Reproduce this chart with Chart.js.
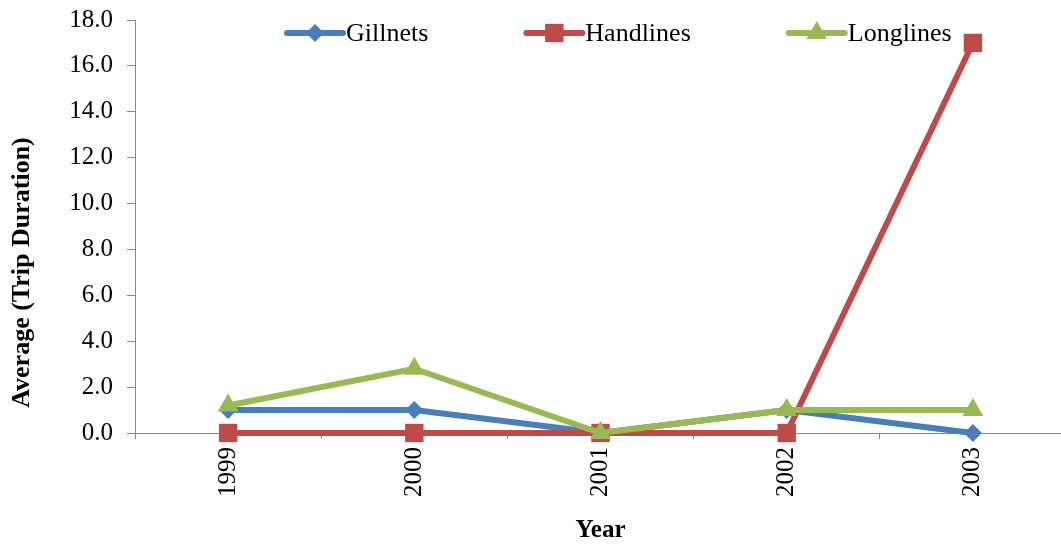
<!DOCTYPE html>
<html>
<head>
<meta charset="utf-8">
<script src="https://cdn.jsdelivr.net/npm/chart.js@4.4.1/dist/chart.umd.min.js"></script>
<style>
	html, body { margin: 0; padding: 0; overflow: hidden; background: #fff; }
	#wrap { width: 1079px; height: 545px; }
</style>
</head>
<body>
<div id="wrap"><canvas id="chartViwe" width="1079" height="545"></canvas></div>
<script>
var years = ['1999', '2000', '2001', '2002', '2003'];
var gillnets = [1.0, 1.0, 0.0, 1.0, 0.0];
var handlines = [0.0, 0.0, 0.0, 0.0, 17.0];
var longlines = [1.2, 2.8, 0.0, 1.0, 1.0];

var yTitle = 'Average (Trip Duration)';
var xTitle = 'Year';
var serif = '"Liberation Serif", "Times New Roman", serif';
var axisColor = '#868686';

function series(label, values, color, style, radius, order) {
	return {
		label: label,
		data: values,
		borderColor: color,
		backgroundColor: color,
		borderWidth: 6,
		tension: 0,
		clip: false,
		pointStyle: style,
		pointRadius: radius,
		pointHoverRadius: radius,
		pointBackgroundColor: color,
		pointBorderColor: color,
		pointBorderWidth: 0,
		order: order
	}
};

// legend with line + marker, laid over the top of the plot
var lineLegend = {
	id: 'lineLegend',
	afterDraw: function (c) {
		var ctx = c.ctx;
		var x = 287;
		var y = 33;
		ctx.save();
		ctx.font = '26px ' + serif;
		ctx.textBaseline = 'middle';
		c.data.datasets.forEach(function (ds) {
			ctx.strokeStyle = ds.borderColor;
			ctx.lineWidth = 6;
			ctx.lineCap = 'round';
			ctx.beginPath();
			ctx.moveTo(x, y);
			ctx.lineTo(x + 56, y);
			ctx.stroke();
			ctx.fillStyle = ds.borderColor;
			Chart.helpers.drawPoint(ctx, { pointStyle: ds.pointStyle, radius: ds.pointRadius, rotation: 0, borderWidth: 0 }, x + 28, y);
			ctx.fillStyle = '#000';
			ctx.fillText(ds.label, x + 59, y + 1);
			x = x + 59 + ctx.measureText(ds.label).width + 98;
		});
		ctx.restore();
	}
};

var yTitlePlugin = {
	id: 'yTitlePlugin',
	afterDraw: function (c) {
		var ctx = c.ctx;
		ctx.save();
		ctx.translate(22, c.height / 2);
		ctx.rotate(-Math.PI / 2);
		ctx.font = 'bold 26px ' + serif;
		ctx.fillStyle = '#000';
		ctx.textAlign = 'center';
		ctx.textBaseline = 'middle';
		ctx.fillText(yTitle, 0, 0);
		ctx.restore();
	}
};

var ctx = document.getElementById('chartViwe').getContext('2d');
var chart = new Chart(ctx, {
	type: 'line',
	data: {
		labels: years,
		datasets: [
			series('Gillnets', gillnets, '#4A7EBB', 'rectRot', 9, 3),
			series('Handlines', handlines, '#BE4B48', 'rect', 13, 2),
			series('Longlines', longlines, '#98B954', 'triangle', 12, 1)
		]
	},
	options: {
		responsive: false,
		animation: false,
		layout: { padding: { left: 0, right: 2, top: 20, bottom: 0 } },
		plugins: {
			legend: { display: false },
			tooltip: { enabled: false }
		},
		scales: {
			x: {
				offset: true,
				grid: { offset: true, drawOnChartArea: false, color: axisColor, tickLength: 6 },
				border: { color: axisColor, width: 1 },
				ticks: {
					color: '#000',
					font: { family: serif, size: 25 },
					minRotation: 90,
					maxRotation: 90,
					padding: 8
				},
				title: {
					display: true,
					text: xTitle,
					color: '#000',
					font: { family: serif, size: 25, weight: 'bold', lineHeight: 1.0 },
					padding: { top: 13, bottom: 2 }
				}
			},
			y: {
				min: 0,
				max: 18,
				afterFit: function (s) {
					s.width = 135;
					s.paddingTop = 0;
					s.paddingBottom = 0;
				},
				grid: { drawOnChartArea: false, color: axisColor, tickLength: 8 },
				border: { color: axisColor, width: 1 },
				ticks: {
					stepSize: 2,
					color: '#000',
					font: { family: serif, size: 25 },
					padding: 14,
					callback: function (v) { return v.toFixed(1); }
				}
			}
		}
	},
	plugins: [lineLegend, yTitlePlugin]
});
</script>
</body>
</html>
